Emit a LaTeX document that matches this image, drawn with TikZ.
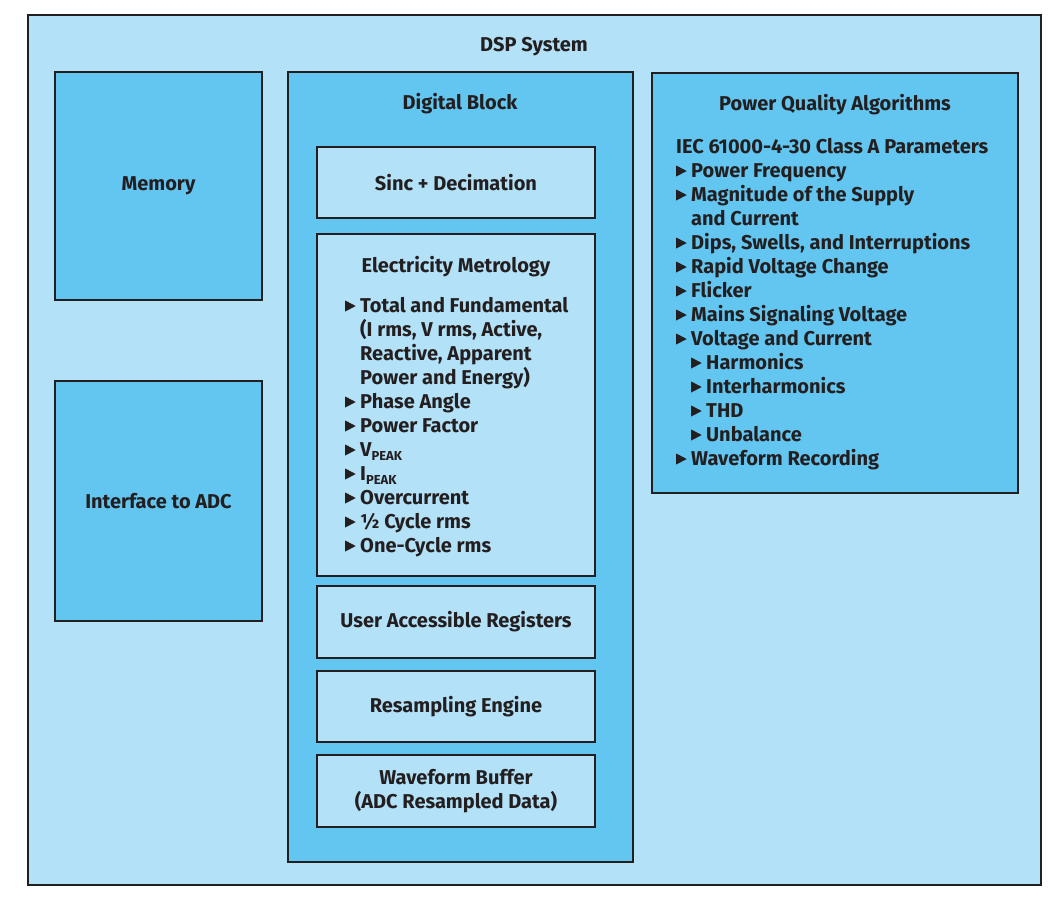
\documentclass[tikz,border=0pt]{standalone}
\usepackage{fontspec}
\setmainfont{Fira Sans}
\definecolor{lightbg}{HTML}{B3E1F7}
\definecolor{midbg}{HTML}{62C6F1}
\definecolor{ink}{HTML}{231F20}
\newcommand\tri{\makebox[15pt][l]{\tikz[baseline=0pt,x=1pt,y=1pt]\fill[ink](0,0.5)--(0,11.5)--(10.5,6)--cycle;}}
\newcommand\tind{\hspace*{15pt}}
\newcommand\pk{\raisebox{-4.5pt}{\fontsize{13}{13}\selectfont PEAK}}
\tikzset{
  blk/.style={draw=ink, line width=2.5pt, inner sep=0pt, align=center, text=ink,
    font=\bfseries\fontsize{20}{24}\selectfont},
  lbl/.style={text=ink, inner sep=0pt, font=\bfseries\fontsize{20}{24}\selectfont},
}
\begin{document}
\begin{tikzpicture}[x=1pt,y=-1pt]
\useasboundingbox (0,0) rectangle (1054,898);
% outer
\node[blk, fill=lightbg, minimum width=1013pt, minimum height=870pt] (dsp) at (534.5,450) {};
\node[lbl, anchor=base] (dspt) at (534,51) {DSP System};
% memory, interface
\node[blk, fill=midbg, minimum width=207pt, minimum height=228pt] (mem) at (158.5,186) {Memory};
\node[blk, fill=midbg, minimum width=207pt, minimum height=240pt] (ifc) at (158.5,501) {Interface to ADC};
% digital block
\node[blk, fill=midbg, minimum width=345pt, minimum height=790pt] (dig) at (460.5,467) {};
\node[lbl, anchor=base] (digt) at (460,109) {Digital Block};
\node[blk, fill=lightbg, minimum width=278pt, minimum height=71pt] (sinc) at (456,182.5) {Sinc + Decimation};
\node[blk, fill=lightbg, minimum width=278pt, minimum height=342pt] (met) at (456,405) {};
\node[lbl, anchor=base] (mett) at (456,272) {Electricity Metrology};
\node[lbl, anchor=base west, align=left] (metl) at (345,552) {\tri Total and Fundamental\\
\tind (I rms, V rms, Active,\\
\tind Reactive, Apparent\\
\tind Power and Energy)\\
\tri Phase Angle\\
\tri Power Factor\\
\tri V\pk\\
\tri I\pk\\
\tri Overcurrent\\
\tri ½ Cycle rms\\
\tri One-Cycle rms};
\node[blk, fill=lightbg, minimum width=278pt, minimum height=72pt] (uar) at (456,622) {User Accessible Registers};
\node[blk, fill=lightbg, minimum width=278pt, minimum height=71pt] (res) at (456,706.5) {Resampling Engine};
\node[blk, fill=lightbg, minimum width=278pt, minimum height=72pt] (wfb) at (456,791) {Waveform Buffer\\(ADC Resampled Data)};
% power quality
\node[blk, fill=midbg, minimum width=366pt, minimum height=420pt] (pq) at (835,283) {};
\node[lbl, anchor=base] (pqt) at (835,110) {Power Quality Algorithms};
\node[lbl, anchor=base west, align=left] (pql) at (676,465) {IEC 61000-4-30 Class A Parameters\\
\tri Power Frequency\\
\tri Magnitude of the Supply\\
\tind and Current\\
\tri Dips, Swells, and Interruptions\\
\tri Rapid Voltage Change\\
\tri Flicker\\
\tri Mains Signaling Voltage\\
\tri Voltage and Current\\
\tind\tri Harmonics\\
\tind\tri Interharmonics\\
\tind\tri THD\\
\tind\tri Unbalance\\
\tri Waveform Recording};
\end{tikzpicture}
\end{document}
